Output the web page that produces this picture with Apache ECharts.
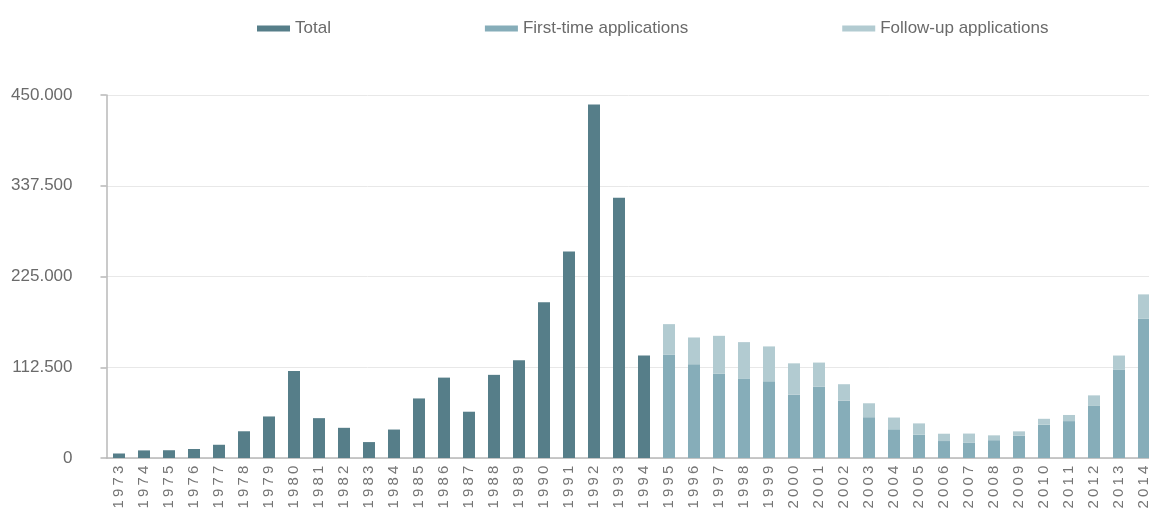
<!DOCTYPE html>
<html>
<head>
<meta charset="utf-8">
<script src="https://cdn.jsdelivr.net/npm/echarts@6/dist/echarts.min.js"></script>
<style>
  html, body { margin: 0; padding: 0; background: #fff; overflow: hidden; }
  #chart { width: 1149px; height: 509px; }
</style>
</head>
<body>
<div id="chart"></div>
<script>
// Asylum applications per year
const years = [
  '1973','1974','1975','1976','1977','1978','1979','1980','1981','1982',
  '1983','1984','1985','1986','1987','1988','1989','1990','1991','1992',
  '1993','1994','1995','1996','1997','1998','1999','2000','2001','2002',
  '2003','2004','2005','2006','2007','2008','2009','2010','2011','2012',
  '2013','2014'
];

// Total applications (1973–1994)
const totalApplications = [
  5595, 9424, 9627, 11123, 16410, 33136, 51493, 107818, 49391, 37423,
  19737, 35278, 73832, 99650, 57379, 103076, 121318, 193063, 256112, 438191,
  322599, 127210
];

// First-time applications (1995–2014)
const firstTimeApplications = [
  127937, 116367, 104353, 98644, 95113, 78564, 88287, 71127, 50563, 35607,
  28914, 21029, 19164, 22085, 27649, 41332, 45741, 64539, 109580, 173072
];

// Follow-up applications (1995–2014)
const followUpApplications = [
  38014, 33042, 47109, 45000, 43206, 38784, 30019, 20344, 17285, 14545,
  13994, 9071, 11139, 6009, 5384, 7257, 7606, 13112, 17443, 29762
];

const yTicks = { min: 0, max: 450000, interval: 112500 };

const pad = (arr, before, after) =>
  Array(before).fill(null).concat(arr, Array(after).fill(null));

const nTotal = totalApplications.length;
const nSplit = firstTimeApplications.length;

const totalData = pad(totalApplications, 0, years.length - nTotal);
const firstData = pad(firstTimeApplications, years.length - nSplit, 0);
const followData = pad(followUpApplications, years.length - nSplit, 0);

// thousands separator: dot
const fmt = v => String(v).replace(/\B(?=(\d{3})+(?!\d))/g, '.');

// spread each year label's digits out a little
const spreadDigits = s => s.split('').map(c => '{d|' + c + '}').join('');

const font = '"Liberation Sans", Arial, sans-serif';
const textGrey = '#6a6a6a';

const chart = echarts.init(document.getElementById('chart'), null, { renderer: 'canvas' });
chart.setOption({
  animation: false,
  backgroundColor: '#ffffff',
  textStyle: { fontFamily: font },
  legend: {
    top: 15,
    left: 252,
    itemWidth: 33,
    itemHeight: 6,
    itemGap: 154,
    icon: 'rect',
    textStyle: { fontSize: 17, color: textGrey, fontFamily: font },
    data: ['Total', 'First-time applications', 'Follow-up applications']
  },
  grid: {
    left: 106.5,
    width: 1050,
    top: 95,
    bottom: 51,
    containLabel: false,
    outerBoundsMode: 'none'
  },
  xAxis: {
    type: 'category',
    data: years,
    axisLine: { lineStyle: { color: '#b8b8b8', width: 1.5 } },
    axisTick: { show: false },
    axisLabel: {
      rotate: 90,
      interval: 0,
      margin: 6,
      color: '#757575',
      fontFamily: font,
      formatter: v => spreadDigits(v),
      rich: {
        d: { fontSize: 15, width: 11.5, align: 'center', color: '#757575', fontFamily: font }
      }
    }
  },
  yAxis: {
    type: 'value',
    min: yTicks.min,
    max: yTicks.max,
    interval: yTicks.interval,
    axisLine: { show: true, lineStyle: { color: '#b8b8b8', width: 1.5 } },
    axisTick: { show: true, length: 6, lineStyle: { color: '#b8b8b8', width: 1.5 } },
    splitLine: { lineStyle: { color: '#e8e8e8', width: 1 } },
    axisLabel: {
      margin: 34,
      fontSize: 17,
      color: textGrey,
      fontFamily: font,
      formatter: v => fmt(v)
    }
  },
  series: [
    {
      name: 'Total',
      type: 'bar',
      stack: 'apps',
      barWidth: 12,
      itemStyle: { color: '#567e89' },
      data: totalData
    },
    {
      name: 'First-time applications',
      type: 'bar',
      stack: 'apps',
      barWidth: 12,
      itemStyle: { color: '#86adb9' },
      data: firstData
    },
    {
      name: 'Follow-up applications',
      type: 'bar',
      stack: 'apps',
      barWidth: 12,
      itemStyle: { color: '#b2cbd1' },
      data: followData
    }
  ]
});
</script>
</body>
</html>
